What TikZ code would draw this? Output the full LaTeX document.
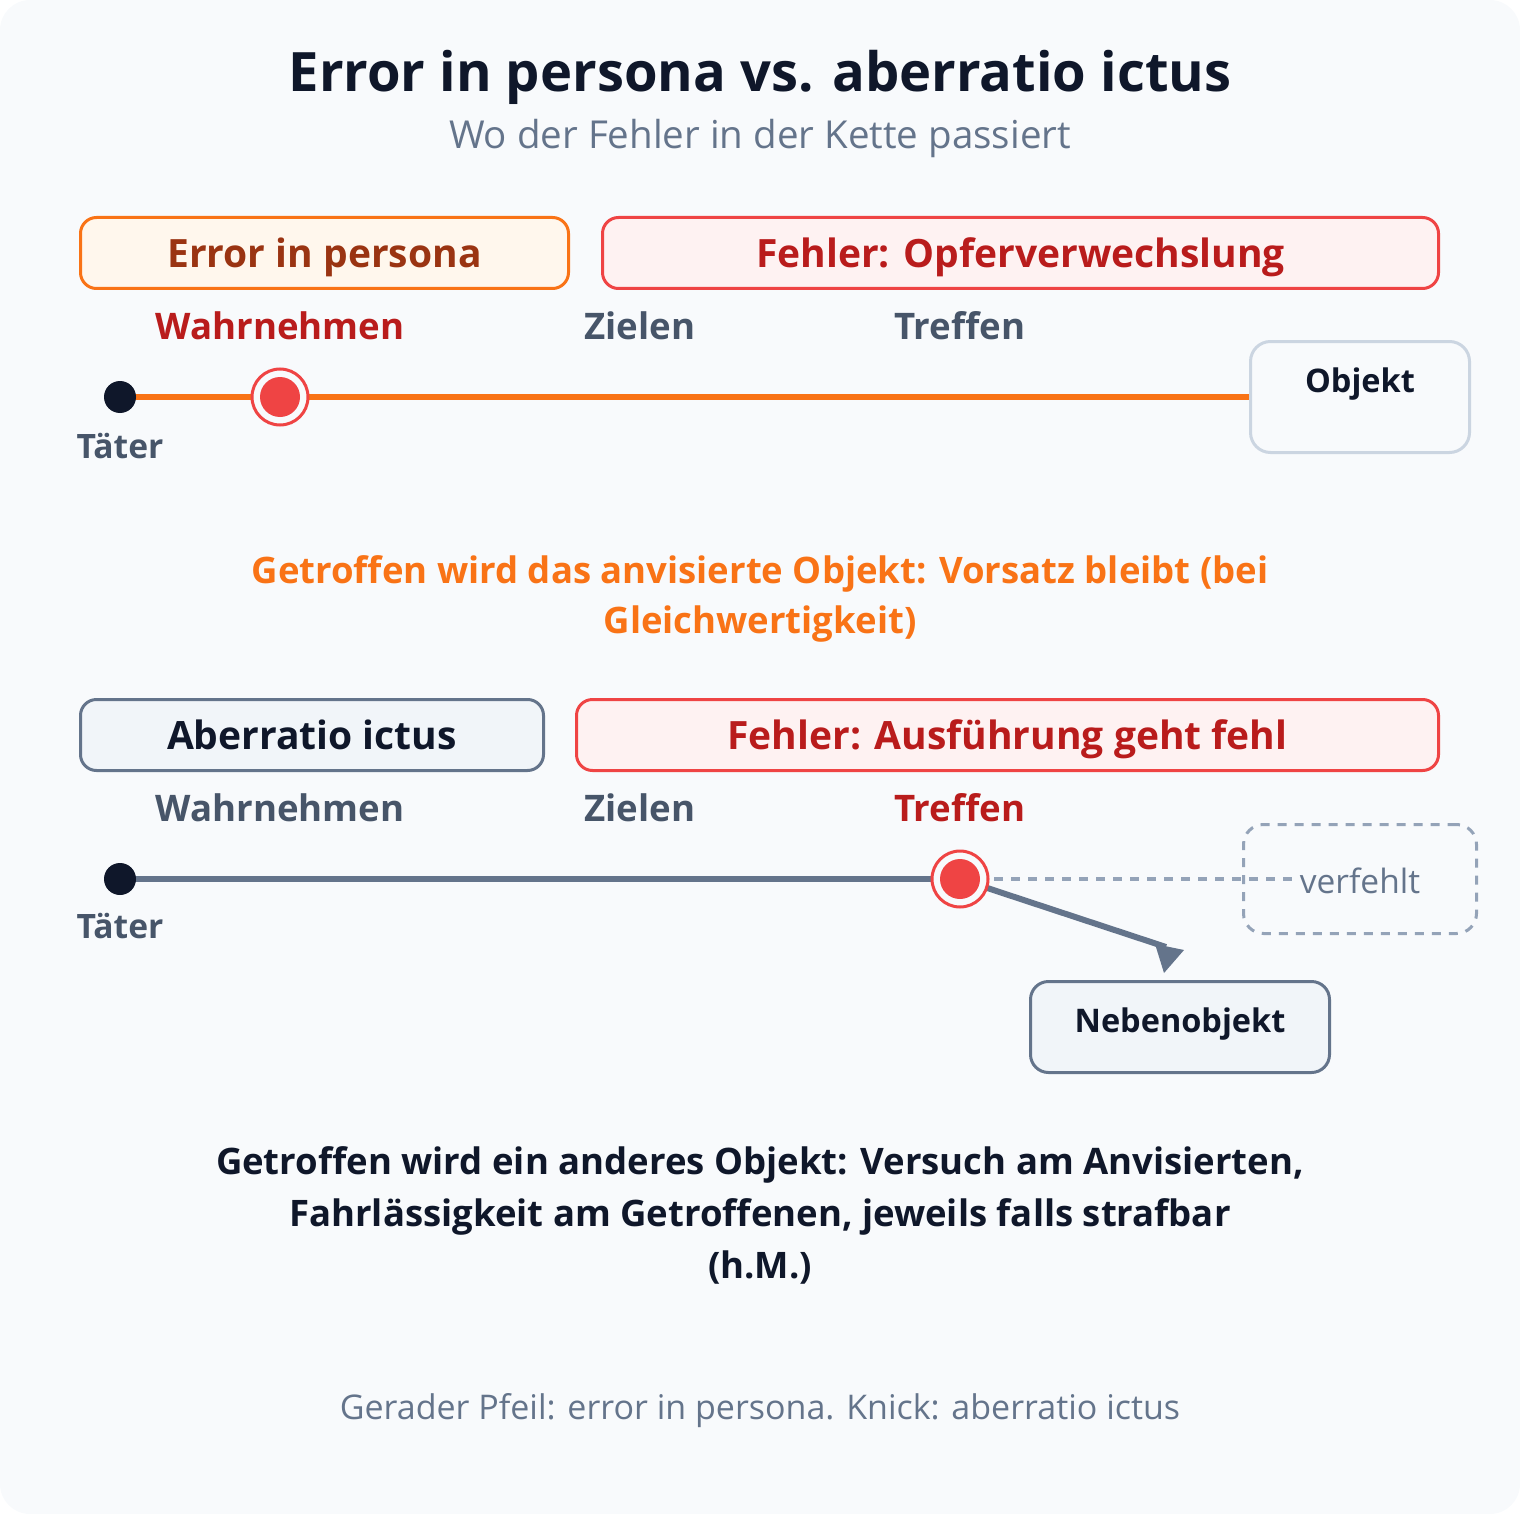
\documentclass[tikz,border=0pt]{standalone}
\usepackage{fontspec}
\setmainfont{Open Sans}
\usetikzlibrary{calc}
\definecolor{bgc}{HTML}{F8FAFC}
\definecolor{dark}{HTML}{0F172A}
\definecolor{slatesix}{HTML}{475569}
\definecolor{slatefive}{HTML}{64748B}
\definecolor{slatefour}{HTML}{94A3B8}
\definecolor{slatethree}{HTML}{CBD5E1}
\definecolor{slateone}{HTML}{F1F5F9}
\definecolor{orangec}{HTML}{F97316}
\definecolor{orangelt}{HTML}{FFF7ED}
\definecolor{orangedk}{HTML}{9A3412}
\definecolor{redc}{HTML}{EF4444}
\definecolor{redlt}{HTML}{FEF2F2}
\definecolor{reddk}{HTML}{B91C1C}
\pgfdeclarelayer{bglayer}
\pgfdeclarelayer{lines}
\pgfsetlayers{bglayer,lines,main}
\tikzset{
  every node/.style={inner sep=0pt, outer sep=0pt},
  headbox/.style={draw, line width=3pt, rounded corners=16pt, minimum height=71pt,
    font=\bfseries\fontsize{39}{47}\selectfont, text height=28.5pt, text depth=0pt},
  steplbl/.style={anchor=base, font=\bfseries\fontsize{36.6}{44}\selectfont},
  taeterlbl/.style={anchor=base, text=slatesix, font=\bfseries\fontsize{33.6}{40}\selectfont},
  startdot/.style={circle, fill=dark, minimum size=32pt},
  ring/.style={circle, draw=redc, line width=3pt, fill=bgc, minimum size=56pt},
  hitdot/.style={circle, fill=redc, minimum size=40pt},
  objbox/.style={draw, line width=3pt, rounded corners=20pt},
  objlbl/.style={anchor=base, text=dark, font=\bfseries\fontsize{32.5}{40}\selectfont},
  dashline/.style={draw=slatefour, line width=3.5pt, dash pattern=on 9pt off 8pt},
}
\begin{document}
\begin{tikzpicture}[x=1pt,y=-1pt]
\useasboundingbox (0,0) rectangle (1520,1514);
\begin{pgfonlayer}{bglayer}
\fill[bgc, rounded corners=30pt] (0,0) rectangle (1520,1514);
\end{pgfonlayer}

% title
\node[anchor=base, text=dark, font=\bfseries\fontsize{54.3}{64}\selectfont] (title) at (760,92) {Error in persona vs. aberratio ictus};
\node[anchor=base, text=slatefive, font=\fontsize{38.5}{46}\selectfont] (subtitle) at (760,149) {Wo der Fehler in der Kette passiert};

% ---- section 1
\node[headbox, draw=orangec, fill=orangelt, text=orangedk, minimum width=488pt] (ep) at (324.5,253) {Error in persona};
\node[headbox, draw=redc, fill=redlt, text=reddk, minimum width=836pt] (f1) at (1020.5,253) {Fehler: Opferverwechslung};

\node[steplbl, text=reddk] (w1) at (280,339) {Wahrnehmen};
\node[steplbl, text=slatesix] (z1) at (640,339) {Zielen};
\node[steplbl, text=slatesix] (tr1) at (960,339) {Treffen};

\node[startdot] (t1) at (120,397) {};
\node[taeterlbl] (tl1) at (120,458) {Täter};
\node[ring] (m1ring) at (280,397) {};
\node[hitdot] (m1) at (280,397) {};
\node[objbox, draw=slatethree, fill=bgc, minimum width=219pt, minimum height=111pt] (obj) at (1360,397) {};
\node[objlbl] (objtxt) at (1360,392) {Objekt};

\begin{pgfonlayer}{lines}
\draw[orangec, line width=6pt] (t1.center) -- (obj.west);
\end{pgfonlayer}

\node[anchor=base, align=center, text=orangec, font=\bfseries\fontsize{36.5}{50}\selectfont] (note1) at (760,633)
  {Getroffen wird das anvisierte Objekt: Vorsatz bleibt (bei\\Gleichwertigkeit)};

% ---- section 2
\node[headbox, draw=slatefive, fill=slateone, text=dark, minimum width=463pt] (ai) at (312,735) {Aberratio ictus};
\node[headbox, draw=redc, fill=redlt, text=reddk, minimum width=862pt] (f2) at (1007.5,735) {Fehler: Ausführung geht fehl};

\node[steplbl, text=slatesix] (w2) at (280,821) {Wahrnehmen};
\node[steplbl, text=slatesix] (z2) at (640,821) {Zielen};
\node[steplbl, text=reddk] (tr2) at (960,821) {Treffen};

\node[startdot] (t2) at (120,879) {};
\node[taeterlbl] (tl2) at (120,938) {Täter};
\node[ring] (m2ring) at (960,879) {};
\node[hitdot] (m2) at (960,879) {};

\node[draw=slatefour, line width=3pt, dash pattern=on 9pt off 8pt, rounded corners=20pt, minimum width=233pt, minimum height=109pt] (vbox) at (1360,879) {};
\node[anchor=base, text=slatefive, font=\fontsize{33.5}{40}\selectfont] (vtxt) at (1360,893) {verfehlt};

\node[objbox, draw=slatefive, fill=slateone, minimum width=299pt, minimum height=91pt, rounded corners=18pt] (neb) at (1180,1027) {};
\node[objlbl] (nebtxt) at (1180,1032) {Nebenobjekt};

\coordinate (ae) at (1166,947);
\begin{pgfonlayer}{lines}
\draw[slatefive, line width=6pt] (t2.center) -- (m2.center);
\draw[dashline] (m2.center) -- (m2.center -| vtxt.west);
\draw[slatefive, line width=6pt] (m2.center) -- (ae);
\end{pgfonlayer}
\fill[slatefive] ($(ae)+(-11,-3)$) -- ($(ae)+(18,3)$) -- ($(ae)+(-2,26)$) -- cycle;

% ---- conclusion
\node[anchor=base, align=center, text=dark, font=\bfseries\fontsize{36.5}{52}\selectfont] (note2) at (760,1278)
  {Getroffen wird ein anderes Objekt: Versuch am Anvisierten,\\Fahrlässigkeit am Getroffenen, jeweils falls strafbar\\(h.M.)};

\node[anchor=base, text=slatefive, font=\fontsize{34}{40}\selectfont] (foot) at (760,1419) {Gerader Pfeil: error in persona. Knick: aberratio ictus};
\end{tikzpicture}
\end{document}
